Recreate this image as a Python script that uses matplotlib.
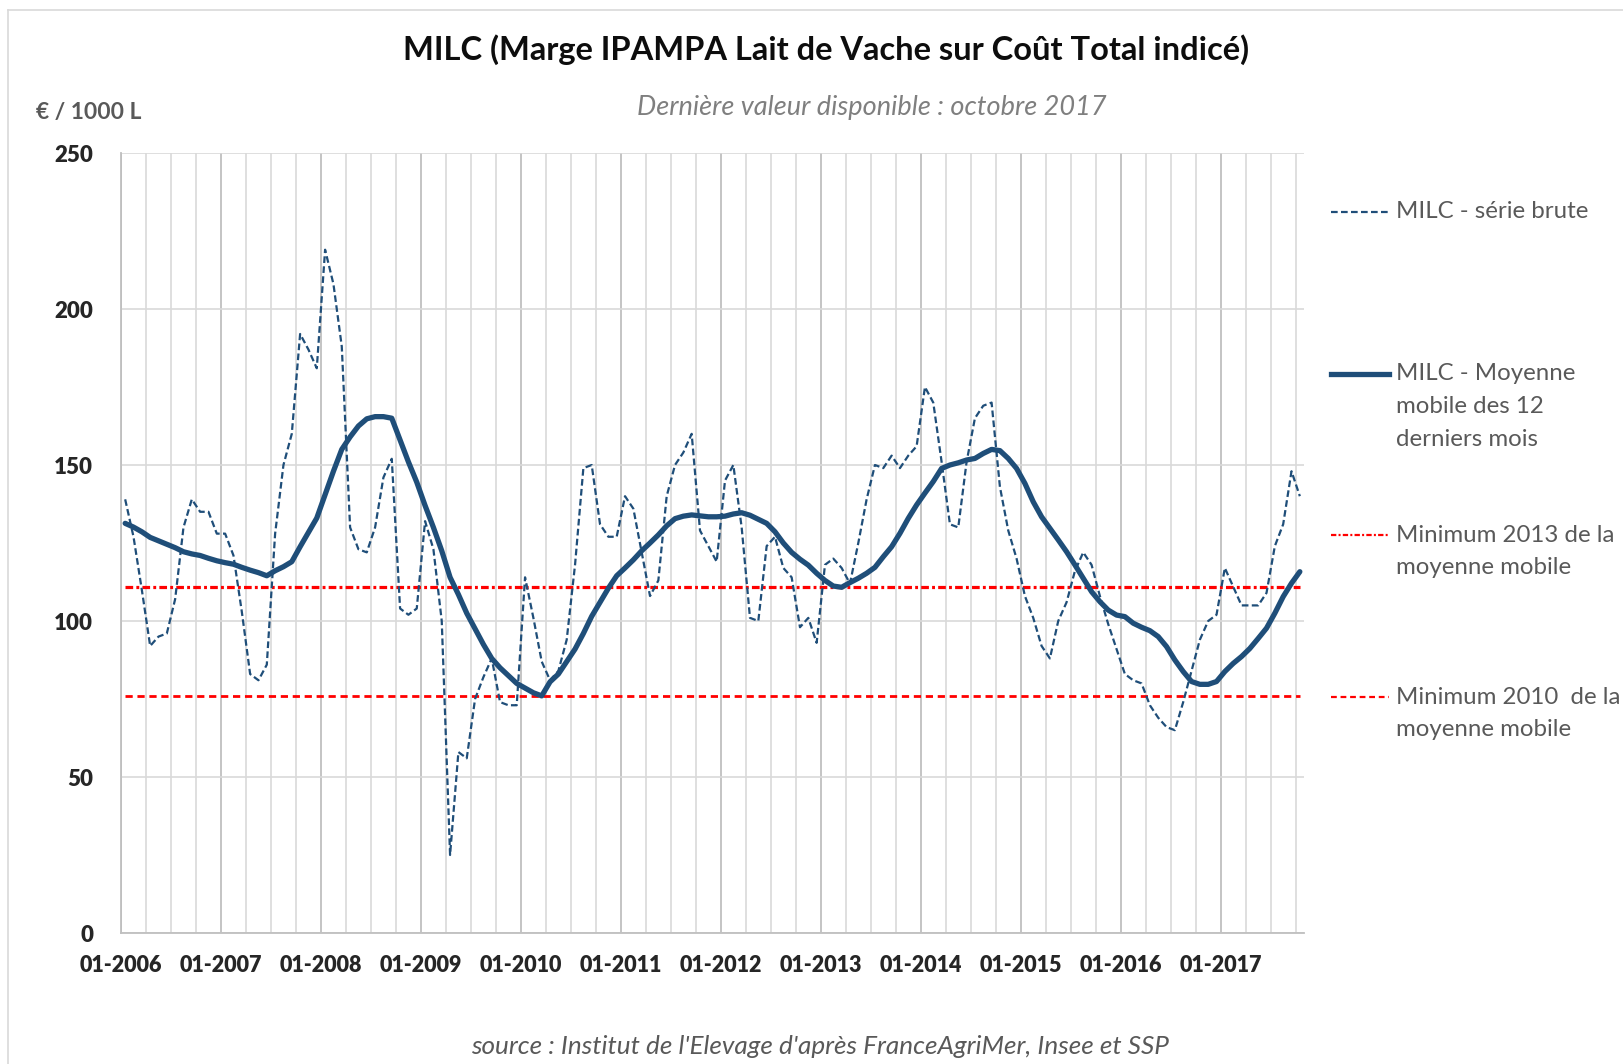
import matplotlib

matplotlib.use("Agg")
import matplotlib.pyplot as plt
import numpy as np
from matplotlib.lines import Line2D

FIG_W, FIG_H = 1624, 1064

TITLE = "MILC (Marge IPAMPA Lait de Vache sur Coût Total indicé)"
SUBTITLE = "Dernière valeur disponible : octobre 2017"
UNIT = "€ / 1000 L"
SOURCE = "source : Institut de l'Elevage d'après FranceAgriMer, Insee et SSP"

# monthly values, 01-2006 .. 10-2017 (142 months)
YEARS = list(range(2006, 2018))
YEAR_LABELS = [f"01-{year}" for year in YEARS]

MILC_RAW = [
    139, 127, 110, 92, 95, 96, 107, 130, 139, 135, 135, 128,
    128, 121, 103, 83, 81, 86, 128, 150, 160, 192, 187, 181,
    219, 208, 188, 130, 123, 122, 130, 146, 152, 104, 102, 104,
    132, 123, 100, 25, 58, 56, 75, 82, 88, 74, 73, 73,
    114, 101, 87, 81, 84, 94, 118, 149, 150, 131, 127, 127,
    140, 136, 122, 108, 113, 140, 150, 154, 160, 129, 124, 119,
    145, 150, 130, 101, 100, 124, 127, 117, 114, 98, 101, 93,
    118, 120, 117, 112, 125, 139, 150, 149, 153, 149, 153, 156,
    175, 170, 151, 131, 130, 151, 165, 169, 170, 143, 129, 120,
    108, 101, 92, 88, 100, 106, 116, 122, 118, 108, 99, 91,
    83, 81, 80, 73, 69, 66, 65, 74, 84, 94, 100, 102,
    117, 111, 105, 105, 105, 109, 124, 131, 148, 140,
]

MILC_MA12 = [
    131.3, 130.1, 128.6, 126.8, 125.7, 124.6, 123.5, 122.2, 121.5, 121.0, 120.1, 119.3,
    118.7, 118.2, 117.2, 116.3, 115.5, 114.5, 116.1, 117.4, 119.0, 123.8, 128.4, 133.0,
    140.5, 148.0, 155.0, 159.0, 162.5, 164.8, 165.5, 165.5, 165.0, 158.0, 151.0, 144.5,
    137.0, 130.0, 122.5, 114.0, 108.5, 102.5, 97.5, 92.5, 88.0, 85.0, 82.5, 80.0,
    78.5, 77.0, 76.0, 80.5, 83.0, 87.0, 91.0, 96.0, 101.5, 106.0, 110.5, 114.5,
    117.0, 119.6, 122.5, 125.0, 127.6, 130.5, 132.8, 133.6, 134.0, 133.7, 133.4, 133.4,
    133.6, 134.3, 134.7, 133.9, 132.6, 131.3, 128.6, 125.0, 122.0, 119.8, 117.9, 115.3,
    113.0, 111.2, 110.8, 112.3, 113.7, 115.3, 117.2, 120.6, 123.8, 128.1, 132.9, 137.2,
    141.0, 144.7, 148.9, 150.0, 150.7, 151.6, 152.1, 153.7, 155.0, 154.6, 152.1, 148.9,
    144.1, 138.2, 133.4, 129.7, 126.0, 122.2, 118.0, 113.7, 109.4, 106.2, 103.5, 101.9,
    101.4, 99.3, 98.0, 96.9, 95.0, 91.8, 87.5, 83.8, 80.6, 79.7, 79.7, 80.6,
    83.8, 86.4, 88.6, 91.2, 94.4, 97.7, 102.5, 107.8, 112.1, 115.8,
]

MIN_2013 = 110.9
MIN_2010 = 76.0

Y_TICKS = [0, 50, 100, 150, 200, 250]

LEGEND_LABELS = [
    ["MILC - série brute"],
    ["MILC - Moyenne", "mobile des 12", "derniers mois"],
    ["Minimum 2013 de la", "moyenne mobile"],
    ["Minimum 2010  de la", "moyenne mobile"],
]

BLUE = "#1F4E79"
RED = "#FF0000"
GREY_TEXT = "#595959"


def fx(px):
    return px / FIG_W


def fy(py):
    return 1 - py / FIG_H


def main():
    plt.rcParams["font.family"] = ["Lato", "DejaVu Sans"]

    fig = plt.figure(figsize=(FIG_W / 100, FIG_H / 100), dpi=100)
    fig.patch.set_facecolor("white")

    # chart area border (top / left visible)
    fig.add_artist(Line2D([fx(8), 1.0], [fy(10), fy(10)], color="#D9D9D9", lw=1.2))
    fig.add_artist(Line2D([fx(8), fx(8)], [fy(10), 0.0], color="#D9D9D9", lw=1.2))

    ax = fig.add_axes([fx(121), fy(933), fx(1304) - fx(121), fy(153) - fy(933)])
    n = len(MILC_RAW)
    x = np.arange(n)

    raw_line, = ax.plot(x, MILC_RAW, color=BLUE, lw=1.6, ls=(0, (3.0, 1.5)), zorder=3)
    ma_line, = ax.plot(x, MILC_MA12, color=BLUE, lw=3.8, solid_capstyle="round",
                       solid_joinstyle="round", zorder=4)
    min13_line, = ax.plot(x, [MIN_2013] * n, color=RED, lw=2.3,
                          ls=(0, (2.4, 1.0, 0.9, 1.0)), zorder=2)
    min10_line, = ax.plot(x, [MIN_2010] * n, color=RED, lw=2.0,
                          ls=(0, (2.6, 1.7)), zorder=2)

    ax.set_xlim(-0.5, n - 0.5)
    ax.set_ylim(0, 250)

    ax.set_xticks([-0.5 + 12 * k for k in range(len(YEAR_LABELS))])
    ax.set_xticklabels(YEAR_LABELS)
    ax.set_xticks([-0.5 + 3 * k for k in range(n // 3 + 1)], minor=True)
    ax.set_yticks(Y_TICKS)

    ax.tick_params(axis="x", which="both", length=0, pad=16, labelsize=15.5,
                   labelcolor="#262626")
    ax.tick_params(axis="y", length=0, pad=20, labelsize=16, labelcolor="#262626")
    for label in ax.get_xticklabels() + ax.get_yticklabels():
        label.set_fontweight("heavy")

    ax.grid(axis="y", color="#D9D9D9", lw=1.2)
    ax.grid(axis="x", which="major", color="#BFBFBF", lw=1.3)
    ax.grid(axis="x", which="minor", color="#D9D9D9", lw=1.2)
    ax.set_axisbelow(True)

    for side in ("top", "right"):
        ax.spines[side].set_visible(False)
    for side in ("left", "bottom"):
        ax.spines[side].set_color("#BFBFBF")
        ax.spines[side].set_linewidth(1.3)

    fig.text(fx(826), fy(50), TITLE, ha="center", va="center", fontsize=23.5,
             fontweight="bold", color="#0D0D0D")
    fig.text(fx(872), fy(107), SUBTITLE, ha="center", va="center", fontsize=19.5,
             style="italic", color="#7F7F7F")
    fig.text(fx(36), fy(112), UNIT, ha="left", va="center", fontsize=16.5,
             fontweight="bold", color=GREY_TEXT)
    fig.text(fx(820), fy(1046), SOURCE, ha="center", va="center", fontsize=18.8,
             style="italic", color=GREY_TEXT)

    # legend drawn by hand to follow the multi-line layout of the original
    handles = [raw_line, ma_line, min13_line, min10_line]
    legend_y = [212, 374, 535, 697]
    line_pitch = 32.5
    for handle, labels, ypos in zip(handles, LEGEND_LABELS, legend_y):
        sample = Line2D([fx(1331), fx(1389)], [fy(ypos), fy(ypos)],
                        color=handle.get_color(), lw=handle.get_linewidth(),
                        ls=handle.get_linestyle())
        if handle in (min13_line, min10_line):
            sample.set_linewidth(1.6)
            sample.set_dashes(handle._unscaled_dash_pattern[1])
        elif handle is raw_line:
            sample.set_dashes(handle._unscaled_dash_pattern[1])
        fig.add_artist(sample)
        for row, text in enumerate(labels):
            fig.text(fx(1396), fy(ypos + row * line_pitch), text, ha="left",
                     va="center", fontsize=17.3, color=GREY_TEXT)

    fig.savefig("out.png", dpi=100, facecolor="white")
    plt.close(fig)


if __name__ == "__main__":
    main()
